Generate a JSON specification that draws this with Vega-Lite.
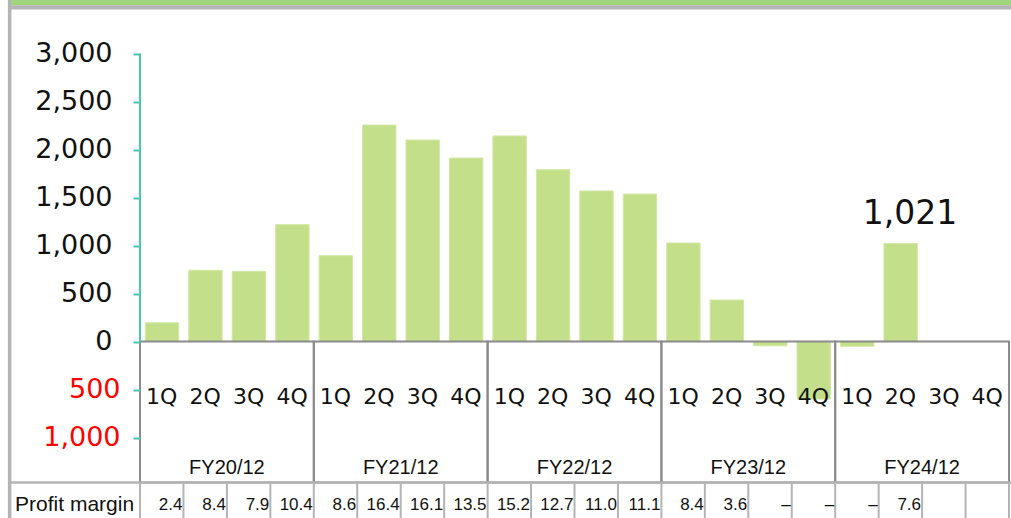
{
  "$schema": "https://vega.github.io/schema/vega-lite/v6.json",
  "width": 871,
  "height": 518,
  "autosize": "none",
  "padding": {"left": 140, "top": 0, "right": 0, "bottom": 0},
  "background": "white",
  "config": {"view": {"stroke": null}},
  "resolve": {"axis": {"y": "independent"}},
  "datasets": {
    "q": [
      {"fy": "FY20/12", "q": "1Q", "i": 0, "value": 195, "margin": "2.4"},
      {"fy": "FY20/12", "q": "2Q", "i": 1, "value": 742, "margin": "8.4"},
      {"fy": "FY20/12", "q": "3Q", "i": 2, "value": 731, "margin": "7.9"},
      {"fy": "FY20/12", "q": "4Q", "i": 3, "value": 1217, "margin": "10.4"},
      {"fy": "FY21/12", "q": "1Q", "i": 4, "value": 894, "margin": "8.6"},
      {"fy": "FY21/12", "q": "2Q", "i": 5, "value": 2255, "margin": "16.4"},
      {"fy": "FY21/12", "q": "3Q", "i": 6, "value": 2099, "margin": "16.1"},
      {"fy": "FY21/12", "q": "4Q", "i": 7, "value": 1911, "margin": "13.5"},
      {"fy": "FY22/12", "q": "1Q", "i": 8, "value": 2141, "margin": "15.2"},
      {"fy": "FY22/12", "q": "2Q", "i": 9, "value": 1790, "margin": "12.7"},
      {"fy": "FY22/12", "q": "3Q", "i": 10, "value": 1568, "margin": "11.0"},
      {"fy": "FY22/12", "q": "4Q", "i": 11, "value": 1536, "margin": "11.1"},
      {"fy": "FY23/12", "q": "1Q", "i": 12, "value": 1026, "margin": "8.4"},
      {"fy": "FY23/12", "q": "2Q", "i": 13, "value": 432, "margin": "3.6"},
      {"fy": "FY23/12", "q": "3Q", "i": 14, "value": -45, "margin": "–"},
      {"fy": "FY23/12", "q": "4Q", "i": 15, "value": -600, "margin": "–"},
      {"fy": "FY24/12", "q": "1Q", "i": 16, "value": -50, "margin": "–"},
      {"fy": "FY24/12", "q": "2Q", "i": 17, "value": 1021, "margin": "7.6"},
      {"fy": "FY24/12", "q": "3Q", "i": 18, "value": null, "margin": ""},
      {"fy": "FY24/12", "q": "4Q", "i": 19, "value": null, "margin": ""}
    ]
  },
  "data": {"name": "q"},
  "layer": [
    {
      "mark": {"type": "bar", "color": "#c4df89", "stroke": "#d2e8a6", "strokeWidth": 1, "xOffset": 5.3, "x2Offset": 38.7},
      "encoding": {
        "x": {"field": "i", "type": "quantitative", "scale": {"domain": [0, 20.046], "nice": false, "zero": false}, "axis": null},
        "x2": {"field": "i"},
        "y": {
          "field": "value", "type": "quantitative",
          "scale": {"domain": [-1838.5, 3557.3], "nice": false, "zero": false},
          "axis": {
            "orient": "left",
            "zindex": 1,
            "values": [-1000, -500, 0, 500, 1000, 1500, 2000, 2500, 3000],
            "domain": false,
            "grid": false,
            "title": null,
            "ticks": true,
            "labels": true,
            "tickColor": "#4cc6a8",
            "tickWidth": 2,
            "tickSize": 7,
            "labelFont": "DejaVu Sans",
            "labelFontSize": 27,
            "labelColor": {"condition": {"test": "datum.value < 0", "value": "#ff0000"}, "value": "#111111"},
            "labelPadding": {"condition": {"test": "datum.value < 0", "value": 13}, "value": 21},
            "labelExpr": "format(abs(datum.value), ',')"
          }
        },
        "y2": {"datum": 0}
      }
    },
    {
      "data": {"values": [{}]},
      "mark": {"type": "rect", "color": "#9fd67b"},
      "encoding": {
        "x": {"datum": -3, "type": "quantitative", "scale": {"domain": [0, 20.046], "nice": false, "zero": false}, "axis": null},
        "x2": {"datum": 20.046},
        "y": {"datum": 3557.3, "type": "quantitative", "scale": {"domain": [-1838.5, 3557.3], "nice": false, "zero": false}, "axis": null},
        "y2": {"datum": 3502}
      }
    },
    {
      "data": {"values": [{}]},
      "mark": {"type": "rect", "color": "#b4b4b4"},
      "encoding": {
        "x": {"datum": -3, "type": "quantitative", "scale": {"domain": [0, 20.046], "nice": false, "zero": false}, "axis": null},
        "x2": {"datum": 20.046},
        "y": {"datum": 3502, "type": "quantitative", "scale": {"domain": [-1838.5, 3557.3], "nice": false, "zero": false}, "axis": null},
        "y2": {"datum": 3459}
      }
    },
    {
      "data": {"values": [{}]},
      "mark": {"type": "rule", "color": "#b4b4b4", "strokeWidth": 3.5},
      "encoding": {
        "x": {"datum": -3, "type": "quantitative", "scale": {"domain": [0, 20.046], "nice": false, "zero": false}, "axis": null},
        "y": {"datum": 3557.3, "type": "quantitative", "scale": {"domain": [-1838.5, 3557.3], "nice": false, "zero": false}, "axis": null},
        "y2": {"datum": -1838.5}
      }
    },
    {
      "transform": [{"filter": "datum.q == '1Q'"}],
      "mark": {"type": "rect", "filled": false, "stroke": "#8a8a8a", "strokeWidth": 2, "x2Offset": 173.8},
      "encoding": {
        "x": {"field": "i", "type": "quantitative", "scale": {"domain": [0, 20.046], "nice": false, "zero": false}, "axis": null},
        "x2": {"field": "i"},
        "y": {"datum": 0, "type": "quantitative", "scale": {"domain": [-1838.5, 3557.3], "nice": false, "zero": false}, "axis": null},
        "y2": {"datum": -1469}
      }
    },
    {
      "data": {"values": [{}]},
      "mark": {"type": "rule", "color": "#4cc6a8", "strokeWidth": 2},
      "encoding": {
        "x": {"datum": 0, "type": "quantitative", "scale": {"domain": [0, 20.046], "nice": false, "zero": false}, "axis": null},
        "y": {"datum": 0, "type": "quantitative", "scale": {"domain": [-1838.5, 3557.3], "nice": false, "zero": false}, "axis": null},
        "y2": {"datum": 3000}
      }
    },
    {
      "data": {"values": [{}]},
      "mark": {"type": "rule", "color": "#b4b4b4", "strokeWidth": 2.5},
      "encoding": {
        "x": {"datum": -3, "type": "quantitative", "scale": {"domain": [0, 20.046], "nice": false, "zero": false}, "axis": null},
        "x2": {"datum": 20.046},
        "y": {"datum": -1469, "type": "quantitative", "scale": {"domain": [-1838.5, 3557.3], "nice": false, "zero": false}, "axis": null}
      }
    },
    {
      "mark": {"type": "rule", "color": "#b4b4b4", "strokeWidth": 2},
      "encoding": {
        "x": {"field": "i", "type": "quantitative", "scale": {"domain": [0, 20.046], "nice": false, "zero": false}, "axis": null},
        "y": {"datum": -1469, "type": "quantitative", "scale": {"domain": [-1838.5, 3557.3], "nice": false, "zero": false}, "axis": null},
        "y2": {"datum": -1838.5}
      }
    },
    {
      "transform": [{"filter": "datum.i == 19"}],
      "mark": {"type": "rule", "color": "#b4b4b4", "strokeWidth": 2, "xOffset": 43.45},
      "encoding": {
        "x": {"field": "i", "type": "quantitative", "scale": {"domain": [0, 20.046], "nice": false, "zero": false}, "axis": null},
        "y": {"datum": -1469, "type": "quantitative", "scale": {"domain": [-1838.5, 3557.3], "nice": false, "zero": false}, "axis": null},
        "y2": {"datum": -1838.5}
      }
    },
    {
      "mark": {"type": "text", "font": "DejaVu Sans", "fontSize": 22, "color": "#111111", "align": "center", "baseline": "middle", "dx": 21.7},
      "encoding": {
        "x": {"field": "i", "type": "quantitative", "scale": {"domain": [0, 20.046], "nice": false, "zero": false}, "axis": null},
        "y": {"datum": -578, "type": "quantitative", "scale": {"domain": [-1838.5, 3557.3], "nice": false, "zero": false}, "axis": null},
        "text": {"field": "q"}
      }
    },
    {
      "transform": [{"filter": "datum.q == '3Q'"}],
      "mark": {"type": "text", "font": "Liberation Sans", "fontSize": 20, "color": "#111111", "align": "center", "baseline": "middle"},
      "encoding": {
        "x": {"field": "i", "type": "quantitative", "scale": {"domain": [0, 20.046], "nice": false, "zero": false}, "axis": null},
        "y": {"datum": -1318, "type": "quantitative", "scale": {"domain": [-1838.5, 3557.3], "nice": false, "zero": false}, "axis": null},
        "text": {"field": "fy"}
      }
    },
    {
      "mark": {"type": "text", "font": "Liberation Sans", "fontSize": 17, "color": "#111111", "align": "right", "baseline": "middle", "dx": 42.4},
      "encoding": {
        "x": {"field": "i", "type": "quantitative", "scale": {"domain": [0, 20.046], "nice": false, "zero": false}, "axis": null},
        "y": {"datum": -1700, "type": "quantitative", "scale": {"domain": [-1838.5, 3557.3], "nice": false, "zero": false}, "axis": null},
        "text": {"field": "margin"}
      }
    },
    {
      "data": {"values": [{"label": "Profit margin"}]},
      "mark": {"type": "text", "font": "Liberation Sans", "fontSize": 21, "color": "#111111", "align": "left", "baseline": "middle", "dx": 5.4},
      "encoding": {
        "x": {"datum": -3, "type": "quantitative", "scale": {"domain": [0, 20.046], "nice": false, "zero": false}, "axis": null},
        "y": {"datum": -1700, "type": "quantitative", "scale": {"domain": [-1838.5, 3557.3], "nice": false, "zero": false}, "axis": null},
        "text": {"field": "label"}
      }
    },
    {
      "transform": [{"filter": "datum.i == 17"}],
      "mark": {"type": "text", "font": "DejaVu Sans", "fontSize": 33, "color": "#111111", "align": "center", "baseline": "middle", "dx": 31.3, "dy": -29.3},
      "encoding": {
        "x": {"field": "i", "type": "quantitative", "scale": {"domain": [0, 20.046], "nice": false, "zero": false}, "axis": null},
        "y": {"field": "value", "type": "quantitative", "scale": {"domain": [-1838.5, 3557.3], "nice": false, "zero": false}, "axis": null},
        "text": {"field": "value", "format": ","}
      }
    }
  ]
}
